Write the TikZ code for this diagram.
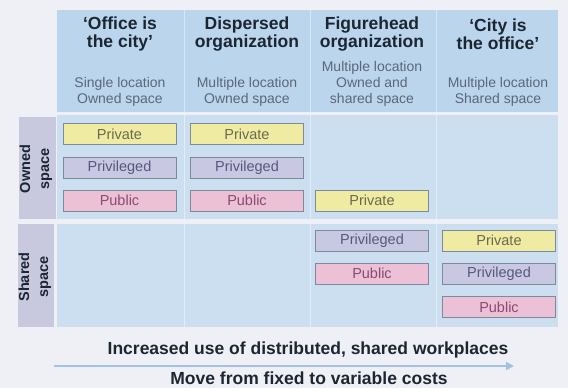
\documentclass[tikz,border=0pt]{standalone}
\usepackage{fontspec}
\setmainfont{Liberation Sans}
\usetikzlibrary{arrows.meta}
\definecolor{bgc}{HTML}{EEF0F5}
\definecolor{headc}{HTML}{BAD5EC}
\definecolor{bodyc}{HTML}{CCDFF1}
\definecolor{sidec}{HTML}{C8C9DE}
\definecolor{boxline}{HTML}{7D8A9C}
\definecolor{privf}{HTML}{EFEBA2}
\definecolor{privt}{HTML}{6B6A4E}
\definecolor{prvgf}{HTML}{C9C8E2}
\definecolor{prvgt}{HTML}{56597E}
\definecolor{pubf}{HTML}{ECC1D5}
\definecolor{pubt}{HTML}{8A4A72}
\definecolor{titlec}{HTML}{1C2633}
\definecolor{subc}{HTML}{5C6877}
\definecolor{arrc}{HTML}{A3C1E0}
\tikzset{
  every node/.style={inner sep=0pt, outer sep=0pt},
  cell/.style={draw=boxline, line width=0.9pt, minimum width=113pt, minimum height=21pt, font=\fontsize{14.5}{15}\selectfont},
  privbox/.style={cell, fill=privf, text=privt},
  prvgbox/.style={cell, fill=prvgf, text=prvgt},
  pubbox/.style={cell, fill=pubf, text=pubt},
  coltitle/.style={align=center, text=titlec, font=\fontsize{17.5}{18}\selectfont\bfseries},
  colsub/.style={align=center, text=subc, font=\fontsize{14}{16}\selectfont},
  sidelabel/.style={align=center, rotate=90, text=titlec, font=\fontsize{14.5}{19}\selectfont\bfseries},
  bottomtext/.style={text=titlec, font=\fontsize{17.5}{18}\selectfont\bfseries},
  sep/.style={draw=white, draw opacity=0.45, line width=1pt}
}
\begin{document}
\begin{tikzpicture}[x=1pt, y=-1pt]
\useasboundingbox (0,0) rectangle (568,388);
\fill[bgc] (0,0) rectangle (568,388);
% bands
\fill[headc] (57,10) rectangle (558,112);
\fill[bodyc] (57,115) rectangle (558,219);
\fill[bodyc] (57,224) rectangle (558,327);
\fill[sidec] (19,117) rectangle (56,219);
\fill[sidec] (18,224) rectangle (54,327);
% column separators
\foreach \sx in {184,310,436}{
  \draw[sep] (\sx,10) -- (\sx,112);
  \draw[sep] (\sx,115) -- (\sx,219);
  \draw[sep] (\sx,224) -- (\sx,327);
}
% column titles
\node[coltitle] (t1) at (120,34) {‘Office is\\the city’};
\node[coltitle] (t2) at (247,34) {Dispersed\\organization};
\node[coltitle] (t3) at (372,34) {Figurehead\\organization};
\node[coltitle] (t4) at (498,34) {‘City is\\the office’};
\node[colsub] (s1) at (120,92) {Single location\\Owned space};
\node[colsub] (s2) at (247,92) {Multiple location\\Owned space};
\node[colsub] (s3) at (372,84) {Multiple location\\Owned and\\shared space};
\node[colsub] (s4) at (498,92) {Multiple location\\Shared space};
% side labels
\node[sidelabel] (own) at (36,169) {Owned\\space};
\node[sidelabel] (shr) at (35,277) {Shared\\space};
% boxes
\node[privbox] (a1) at (119.5,134) {Private};
\node[prvgbox] (a2) at (119.5,167.5) {Privileged};
\node[pubbox]  (a3) at (119.5,200.5) {Public};
\node[privbox] (b1) at (247,134) {Private};
\node[prvgbox] (b2) at (247,167.5) {Privileged};
\node[pubbox]  (b3) at (247,200.5) {Public};
\node[privbox] (c1) at (372,200.5) {Private};
\node[prvgbox] (c2) at (372,240.5) {Privileged};
\node[pubbox]  (c3) at (372,273.5) {Public};
\node[privbox] (d1) at (499,240.5) {Private};
\node[prvgbox] (d2) at (499,273.5) {Privileged};
\node[pubbox]  (d3) at (499,307) {Public};
% bottom
\node[bottomtext] (inc) at (308,350) {Increased use of distributed, shared workplaces};
\node[bottomtext] (mov) at (309,378) {Move from fixed to variable costs};
\coordinate (arrs) at (54,366);
\coordinate (arre) at (514,366);
\draw[arrc, line width=2pt, -{Triangle[length=8pt, width=8pt]}] (arrs) -- (arre);
\end{tikzpicture}
\end{document}
